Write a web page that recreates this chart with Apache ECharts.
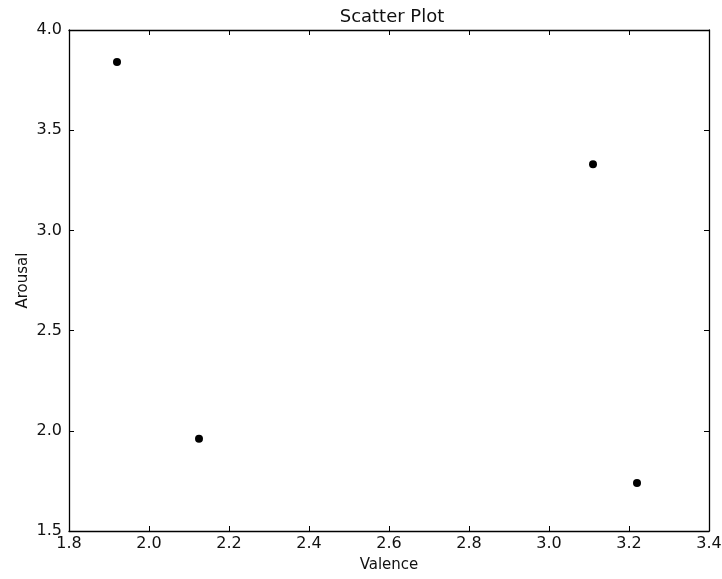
<!DOCTYPE html>
<html>
<head>
<meta charset="utf-8">
<script src="https://cdn.jsdelivr.net/npm/echarts@6/dist/echarts.min.js"></script>
<style>
  html, body { margin: 0; padding: 0; background: #fff; }
  #main { width: 722px; height: 579px; }
</style>
</head>
<body>
<div id="main"></div>
<script>
var valence = [1.92, 2.125, 3.11, 3.22];
var arousal = [3.84, 1.96, 3.33, 1.74];
var xRange = [1.8, 3.4];
var yRange = [1.5, 4.0];

var points = [];
for (var i = 0; i < valence.length; i++) {
  points.push([valence[i], arousal[i]]);
}

var font = 'DejaVu Sans';
var chart = echarts.init(document.getElementById('main'), null, { renderer: 'canvas' });

function axisBase(extra) {
  var ax = {
    type: 'value',
    splitLine: { show: false },
    axisLine: { show: true, onZero: false, lineStyle: { color: '#000', width: 1.3 } },
    axisTick: { show: true, inside: true, length: 5, lineStyle: { color: '#000' } },
    axisLabel: { color: '#111', fontFamily: font, fontSize: 16 }
  };
  for (var k in extra) ax[k] = extra[k];
  return ax;
}

var option = {
  backgroundColor: '#fff',
  animation: false,
  title: {
    text: 'Scatter Plot',
    left: 387,
    textAlign: 'center',
    top: 3,
    textStyle: { fontFamily: font, fontSize: 18, fontWeight: 'normal', color: '#111' }
  },
  grid: { left: 69, right: 13, top: 30, bottom: 48, outerBoundsMode: 'none', containLabel: false },
  xAxis: [
    axisBase({
      min: xRange[0], max: xRange[1], interval: 0.2,
      name: 'Valence', nameLocation: 'middle', nameGap: 27,
      nameTextStyle: { fontFamily: font, fontSize: 15, color: '#111' },
      axisLabel: { color: '#111', fontFamily: font, fontSize: 16, margin: 5,
        formatter: function (v) { return v.toFixed(1); } }
    }),
    axisBase({
      position: 'top', min: xRange[0], max: xRange[1], interval: 0.2,
      axisLabel: { show: false }
    })
  ],
  yAxis: [
    axisBase({
      min: yRange[0], max: yRange[1], interval: 0.5,
      name: 'Arousal', nameLocation: 'middle', nameGap: 38, nameMoveOverlap: false,
      nameTextStyle: { fontFamily: font, fontSize: 15, color: '#111' },
      axisLabel: { color: '#111', fontFamily: font, fontSize: 16, margin: 7,
        formatter: function (v) { return v.toFixed(1); } }
    }),
    axisBase({
      position: 'right', min: yRange[0], max: yRange[1], interval: 0.5,
      axisLabel: { show: false }
    })
  ],
  series: [{
    type: 'scatter',
    data: points,
    symbolSize: 8,
    itemStyle: { color: '#000', opacity: 1 }
  }]
};

chart.setOption(option);
</script>
</body>
</html>
